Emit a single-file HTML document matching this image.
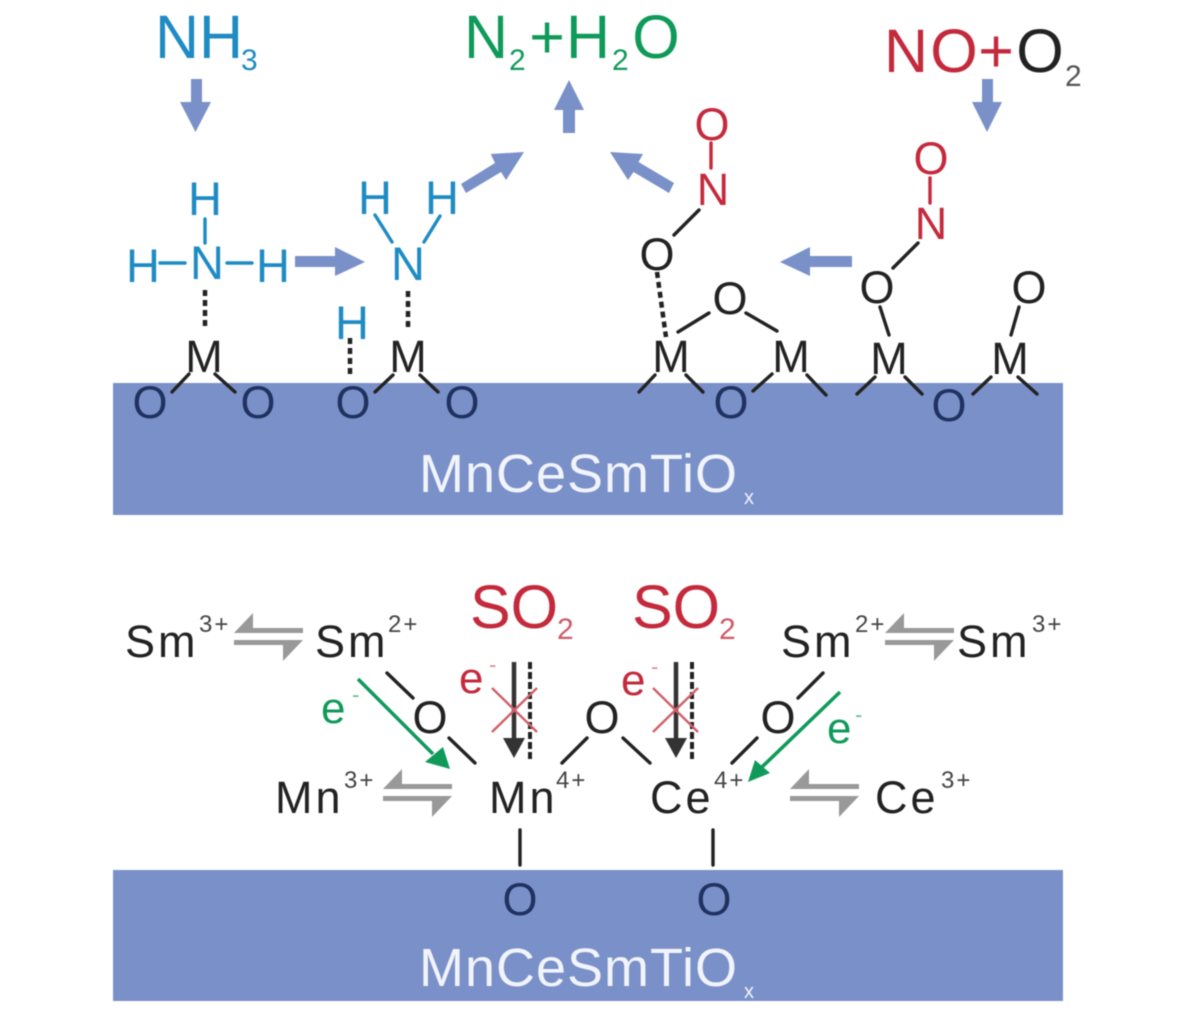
<!DOCTYPE html>
<html><head><meta charset="utf-8">
<style>
html,body{margin:0;padding:0;background:#fff}
svg{display:block;filter:blur(.6px)}
text{font-family:"Liberation Sans",sans-serif}
.a{font-size:45px;text-anchor:middle;fill:#222}
.d{fill:#1f3260}
.r{fill:#c42a3c}
.b{fill:#1e8bc3}
.h{font-size:47px;text-anchor:middle;fill:#1e8bc3}
.big{font-size:61px}
.so{font-size:61px;fill:#c42a3c}
.sub{font-size:30px}
.ion{font-size:45px;letter-spacing:3px;fill:#222}
.sup{font-size:24px;letter-spacing:2px;fill:#444}
.e{font-size:44px}
.mn{font-size:54px;fill:#f2f4fb;letter-spacing:1px}
.k line{stroke:#222;stroke-width:3.4;stroke-linecap:round}
.arr{fill:#7a90c8}
</style></head>
<body>
<svg width="1200" height="1020" viewBox="0 0 1200 1020" xmlns="http://www.w3.org/2000/svg">
<defs>
<g id="eq" fill="#999">
<path d="M234 633L253 613V628H303V633Z"/>
<path d="M234 640H303L283 661V645H234Z"/>
</g>
</defs>
<rect x="113" y="383" width="950" height="132" fill="#7a90c8"/>
<rect x="113" y="870" width="950" height="131" fill="#7a90c8"/>
<text x="419" y="492" class="mn">MnCeSmTiO</text><text x="744" y="504" font-size="20" fill="#f2f4fb">x</text>
<text x="419" y="986" class="mn">MnCeSmTiO</text><text x="744" y="998" font-size="20" fill="#f2f4fb">x</text>

<!-- top labels -->
<text x="155" y="58" class="big b">NH</text><text x="241" y="70" class="sub b">3</text>
<g fill="#0f9a5a">
<text x="464" y="58" class="big">N</text><text x="509" y="70" class="sub">2</text>
<text x="547" y="58" class="big" text-anchor="middle">+</text>
<text x="566" y="58" class="big">H</text><text x="612" y="70" class="sub">2</text>
<text x="656" y="58" class="big" text-anchor="middle">O</text>
</g>
<text x="884" y="72" class="big r">N</text>
<text x="954" y="72" class="big r" text-anchor="middle">O</text>
<text x="996" y="72" class="big r" text-anchor="middle">+</text>
<text x="1040" y="72" class="big" text-anchor="middle" fill="#222">O</text>
<text x="1065" y="86" class="sub" fill="#555">2</text>

<!-- block arrows -->
<g class="arr">
<path d="M191 79H202V102H211L195.5 132L180 102H191Z"/>
<path d="M987 102L982 102V79H993V102H1002L987 132L972 102Z"/>
<path d="M569 80L584 110H575V133H563V110H554Z"/>
<path d="M295 256H335V247L365 262L335 276V267H295Z"/>
<path d="M852 256H810V247L780 262L810 276V267H852Z"/>
<path d="M461 184L495 163L490.700 154L524 152L506 180L501 172L466 193Z"/>
<path d="M610 152L643 154L638.500 162L674 183L669 193L633.500 172L628 180Z"/>
</g>

<!-- NH3 adsorbed -->
<text x="205" y="215" class="h">H</text>
<text x="143" y="282" class="h">H</text>
<text x="207" y="279" class="h">N</text>
<text x="273" y="282" class="h">H</text>
<text x="352" y="339" class="h">H</text>
<text x="408" y="280" class="h">N</text>
<text x="375" y="214" class="h">H</text>
<text x="442" y="214" class="h">H</text>
<g stroke="#1e8bc3" stroke-width="3.4" stroke-linecap="round">
<path d="M205 219V243M160 263H185M227 263H252M375 215L392 242M440 216L424 242" fill="none"/>
</g>

<!-- atoms top -->
<text x="204" y="372" class="a">M</text>
<text x="150" y="418" class="a d">O</text>
<text x="258" y="418" class="a d">O</text>
<text x="408" y="372" class="a">M</text>
<text x="353" y="418" class="a d">O</text>
<text x="462" y="418" class="a d">O</text>

<text x="712" y="140" class="a r">O</text>
<text x="713" y="205" class="a r">N</text>
<text x="657" y="270" class="a">O</text>
<text x="730" y="314" class="a">O</text>
<text x="671" y="372" class="a">M</text>
<text x="791" y="372" class="a">M</text>
<text x="731" y="418" class="a d">O</text>

<text x="931" y="174" class="a r">O</text>
<text x="931" y="239" class="a r">N</text>
<text x="877" y="303" class="a">O</text>
<text x="1029" y="303" class="a">O</text>
<text x="889" y="374" class="a">M</text>
<text x="1010" y="374" class="a">M</text>
<text x="949" y="421" class="a d">O</text>

<g stroke="#c42a3c" stroke-width="3.4" stroke-linecap="round">
<path d="M711 143V168M930 178V203" fill="none"/>
</g>
<g class="k">
<line x1="172" y1="392" x2="189" y2="374"/><line x1="215" y1="374" x2="235" y2="392"/>
<line x1="375" y1="392" x2="393" y2="375"/><line x1="420" y1="375" x2="438" y2="392"/>
<line x1="699" y1="210" x2="674" y2="235"/>
<line x1="678" y1="332" x2="709" y2="313"/><line x1="746" y1="313" x2="777" y2="331"/>
<line x1="639" y1="392" x2="655" y2="375"/><line x1="686" y1="375" x2="703" y2="392"/>
<line x1="753" y1="391" x2="772" y2="374"/><line x1="807" y1="375" x2="826" y2="395"/>
<line x1="857" y1="394" x2="875" y2="377"/><line x1="905" y1="377" x2="922" y2="394"/>
<line x1="973" y1="394" x2="991" y2="377"/><line x1="1018" y1="377" x2="1037" y2="394"/>
<line x1="918" y1="243" x2="893" y2="268"/>
<line x1="880" y1="307" x2="889" y2="335"/><line x1="1019" y1="307" x2="1011" y2="335"/>
</g>
<g stroke="#222" stroke-width="4.500" stroke-dasharray="6 4" fill="none">
<path d="M205 290V327M408 291V327M350 338V375M657 272L666 337"/>
</g>

<!-- bottom panel -->
<text x="125" y="657" class="ion">Sm</text><text x="199" y="632" class="sup">3+</text>
<use href="#eq"/>
<text x="315" y="657" class="ion">Sm</text><text x="388" y="632" class="sup">2+</text>
<text x="781" y="657" class="ion">Sm</text><text x="855" y="632" class="sup">2+</text>
<use href="#eq" x="651"/>
<text x="957" y="657" class="ion">Sm</text><text x="1032" y="632" class="sup">3+</text>

<text x="275" y="813" class="ion">Mn</text><text x="344" y="788" class="sup">3+</text>
<use href="#eq" x="149" y="156"/>
<text x="489" y="813" class="ion">Mn</text><text x="556" y="788" class="sup">4+</text>
<text x="650" y="813" class="ion">Ce</text><text x="714" y="788" class="sup">4+</text>
<use href="#eq" x="556" y="156"/>
<text x="875" y="813" class="ion">Ce</text><text x="941" y="788" class="sup">3+</text>

<text x="470" y="628" class="so">SO</text><text x="557" y="639" class="sub" fill="#cf5a68">2</text>
<text x="632" y="628" class="so">SO</text><text x="719" y="639" class="sub" fill="#cf5a68">2</text>

<text x="459" y="693" class="e r">e</text><text x="489" y="672" font-size="22" fill="#e08a94">-</text>
<text x="621" y="695" class="e r">e</text><text x="651" y="674" font-size="22" fill="#e08a94">-</text>
<text x="321" y="723" class="e" fill="#0f9a5a">e</text><text x="352" y="702" font-size="22" fill="#66bb99">-</text>
<text x="827" y="743" class="e" fill="#0f9a5a">e</text><text x="855" y="722" font-size="22" fill="#66bb99">-</text>

<text x="430" y="733" class="a">O</text>
<text x="602" y="733" class="a">O</text>
<text x="778" y="733" class="a">O</text>
<text x="520" y="915" class="a d">O</text>
<text x="714" y="915" class="a d">O</text>

<g class="k">
<line x1="387" y1="673" x2="413" y2="698"/>
<line x1="449" y1="738" x2="475" y2="763"/>
<line x1="562" y1="763" x2="587" y2="738"/>
<line x1="623" y1="738" x2="650" y2="763"/>
<line x1="732" y1="763" x2="757" y2="738"/>
<line x1="798" y1="698" x2="823" y2="673"/>
<line x1="520" y1="830" x2="520" y2="865"/>
<line x1="713" y1="830" x2="713" y2="865"/>
</g>

<!-- green arrows -->
<path d="M358 679L433 754" stroke="#0f9a5a" stroke-width="3.600" fill="none"/>
<path d="M450 769L425 762L443 747Z" fill="#0f9a5a"/>
<path d="M840 692L762 767" stroke="#0f9a5a" stroke-width="3.600" fill="none"/>
<path d="M748 782L770 773L755 760Z" fill="#0f9a5a"/>

<!-- SO2 arrows -->
<path d="M514 662V740M676 662V740" stroke="#333" stroke-width="4.500" fill="none"/>
<path d="M503 738H525L514 758ZM665 738H687L676 758Z" fill="#333"/>
<path d="M530 662V760M692 662V760" stroke="#222" stroke-width="4" stroke-dasharray="7 3" fill="none"/>
<path d="M492 688L537 732M492 732L537 688M653 688L698 732M653 732L698 688" stroke="#d0606a" stroke-width="2.400" fill="none"/>
</svg>
</body></html>
